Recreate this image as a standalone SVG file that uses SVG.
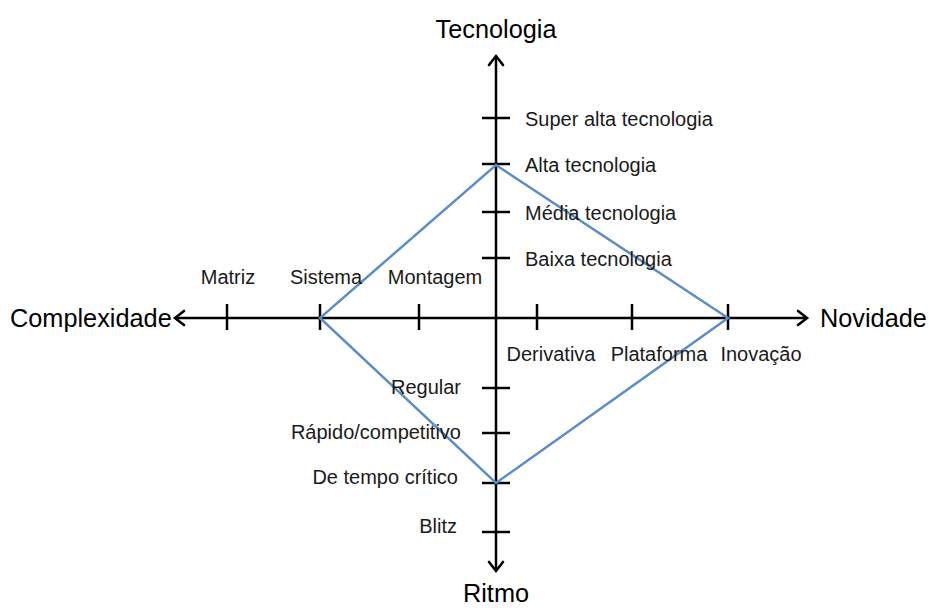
<svg xmlns="http://www.w3.org/2000/svg" width="929" height="608" viewBox="0 0 929 608">
  <style>
    .axis { stroke: #000; stroke-width: 2.5; fill: none; }
    .tick { stroke: #000; stroke-width: 2.5; }
    .head { stroke: #000; stroke-width: 2.6; fill: none; stroke-linejoin: miter; stroke-linecap: round; }
    .title { font-family: "Liberation Sans", Arial, sans-serif; font-size: 25.3px; fill: #000; }
    .lbl { font-family: "Liberation Sans", Arial, sans-serif; font-size: 20px; fill: #1a1a1a; }
    .shape { stroke: #5b8ec8; stroke-width: 2.5; fill: none; stroke-linejoin: miter; }
  </style>
  <rect width="929" height="608" fill="#fff"/>

  <!-- axes -->
  <g id="connectors">
    <line class="axis" x1="176" y1="318" x2="806" y2="318"/>
    <line class="axis" x1="496" y1="57" x2="496" y2="570"/>
    <path class="head" d="M798,311 L807,318 L798,325"/>
    <path class="head" d="M184,311 L175,318 L184,325"/>
    <path class="head" d="M489,65 L496,56 L503,65"/>
    <path class="head" d="M489,562 L496,571 L503,562"/>
  </g>

  <!-- ticks -->
  <g id="ticks">
    <line class="tick" x1="482" y1="118" x2="510" y2="118"/>
    <line class="tick" x1="482" y1="164" x2="510" y2="164"/>
    <line class="tick" x1="482" y1="212" x2="510" y2="212"/>
    <line class="tick" x1="482" y1="258" x2="510" y2="258"/>
    <line class="tick" x1="482" y1="388" x2="510" y2="388"/>
    <line class="tick" x1="482" y1="433" x2="510" y2="433"/>
    <line class="tick" x1="482" y1="483" x2="510" y2="483"/>
    <line class="tick" x1="482" y1="532" x2="510" y2="532"/>
    <line class="tick" x1="227" y1="304" x2="227" y2="330"/>
    <line class="tick" x1="320" y1="304" x2="320" y2="330"/>
    <line class="tick" x1="419" y1="304" x2="419" y2="330"/>
    <line class="tick" x1="537" y1="304" x2="537" y2="330"/>
    <line class="tick" x1="632" y1="304" x2="632" y2="330"/>
    <line class="tick" x1="728" y1="304" x2="728" y2="330"/>
  </g>

  <!-- profile -->
  <g id="profile">
    <polygon class="shape" points="496,165 728,318 496,483 320,318"/>
  </g>

  <!-- axis titles -->
  <g id="axis-titles">
    <text class="title" x="496" y="38" text-anchor="middle">Tecnologia</text>
    <text class="title" x="496" y="602" text-anchor="middle">Ritmo</text>
    <text class="title" x="10" y="327">Complexidade</text>
    <text class="title" x="820" y="327">Novidade</text>
  </g>

  <!-- technology levels -->
  <g id="tecnologia">
    <text class="lbl" x="525" y="126">Super alta tecnologia</text>
    <text class="lbl" x="525" y="172">Alta tecnologia</text>
    <text class="lbl" x="525" y="220">Média tecnologia</text>
    <text class="lbl" x="525" y="266">Baixa tecnologia</text>
  </g>

  <!-- complexity levels -->
  <g id="complexidade">
    <text class="lbl" x="228" y="284" text-anchor="middle">Matriz</text>
    <text class="lbl" x="326" y="284" text-anchor="middle">Sistema</text>
    <text class="lbl" x="435" y="284" text-anchor="middle">Montagem</text>
  </g>

  <!-- novelty levels -->
  <g id="novidade">
    <text class="lbl" x="551" y="361" text-anchor="middle">Derivativa</text>
    <text class="lbl" x="659" y="361" text-anchor="middle">Plataforma</text>
    <text class="lbl" x="761" y="361" text-anchor="middle">Inovação</text>
  </g>

  <!-- pace levels -->
  <g id="ritmo">
    <text class="lbl" x="461" y="394" text-anchor="end">Regular</text>
    <text class="lbl" x="461" y="439" text-anchor="end">Rápido/competitivo</text>
    <text class="lbl" x="458" y="484" text-anchor="end">De tempo crítico</text>
    <text class="lbl" x="457" y="533" text-anchor="end">Blitz</text>
  </g>
</svg>
